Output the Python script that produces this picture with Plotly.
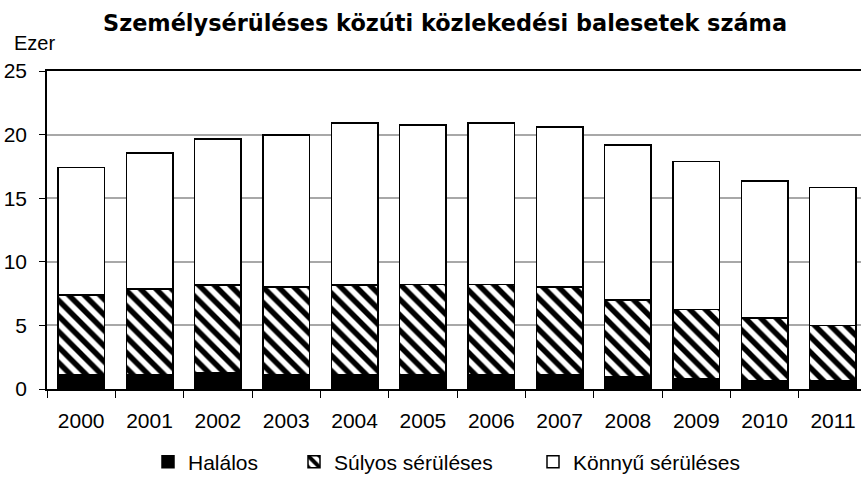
import plotly.graph_objects as go

years = ["2000", "2001", "2002", "2003", "2004", "2005",
         "2006", "2007", "2008", "2009", "2010", "2011"]
halalos = [1.10, 1.10, 1.28, 1.10, 1.10, 1.10, 1.10, 1.10, 0.97, 0.79, 0.65, 0.65]
sulyos = [6.30, 6.75, 6.91, 6.90, 7.09, 7.10, 7.10, 6.90, 6.03, 5.48, 4.95, 4.33]
konnyu = [10.03, 10.71, 11.47, 11.98, 12.71, 12.56, 12.70, 12.60, 12.20, 11.63, 10.75, 10.87]

series_names = ["Halálos", "Súlyos sérüléses", "Könnyű sérüléses"]
y_ticks = [0, 5, 10, 15, 20, 25]
title_text = "Személysérüléses közúti közlekedési balesetek száma"
unit_text = "Ezer"

W, H = 861, 479
ML, MR, MT, MB = 47, 0, 71, 90
PW = W - ML - MR
PH = H - MT - MB


def px_x(px):
    return (px - ML) / PW


def px_y(py):
    return (H - MB - py) / PH


FONT = "Liberation Sans, Arial, sans-serif"
line = dict(color="black", width=1.5)

fig = go.Figure()
fig.add_trace(go.Bar(
    x=years, y=halalos, name=series_names[0], width=0.68,
    marker=dict(color="black", line=line), legend="legend"))
fig.add_trace(go.Bar(
    x=years, y=sulyos, name=series_names[1], width=0.68,
    marker=dict(color="white", line=line,
                pattern=dict(shape="\\", fgcolor="black", bgcolor="white",
                             fgopacity=1, size=11, solidity=0.5,
                             fillmode="replace")),
    legend="legend2"))
fig.add_trace(go.Bar(
    x=years, y=konnyu, name=series_names[2], width=0.68,
    marker=dict(color="white", line=line), legend="legend3"))

leg_common = dict(orientation="h", yanchor="middle", xanchor="left",
                  bgcolor="rgba(0,0,0,0)", borderwidth=0,
                  font=dict(family=FONT, size=21, color="black"))

fig.update_layout(
    width=W, height=H,
    margin=dict(l=ML, r=MR, t=MT, b=MB, autoexpand=False),
    paper_bgcolor="white", plot_bgcolor="white",
    barmode="stack",
    font=dict(family=FONT, size=20, color="black"),
    showlegend=True,
    legend=dict(x=px_x(148), y=px_y(462), **leg_common),
    legend2=dict(x=px_x(294), y=px_y(462), **leg_common),
    legend3=dict(x=px_x(533), y=px_y(462), **leg_common),
    xaxis=dict(
        type="category", range=[-0.5, 11.41],
        showline=True, linecolor="black", linewidth=1.5, mirror=True,
        ticks="outside", tickson="boundaries", ticklen=7, tickcolor="black",
        tickwidth=1, ticklabelstandoff=12,
        tickfont=dict(family=FONT, size=21, color="black"),
        showgrid=False, fixedrange=True, automargin=False),
    yaxis=dict(
        range=[0, 25], tickvals=y_ticks,
        showline=True, linecolor="black", linewidth=1.5,
        ticks="outside", ticklen=6, tickcolor="black", tickwidth=1,
        ticklabelstandoff=8,
        tickfont=dict(family=FONT, size=21, color="black"),
        showgrid=True, gridcolor="#a8a8a8", gridwidth=1.5,
        zeroline=False, fixedrange=True, automargin=False),
    annotations=[
        dict(text=title_text, xref="paper", yref="paper",
             x=px_x(445), y=px_y(23), xanchor="center", yanchor="middle",
             showarrow=False,
             font=dict(family="DejaVu Sans, sans-serif", size=22.4,
                       color="black", weight="bold")),
        dict(text=unit_text, xref="paper", yref="paper",
             x=px_x(12), y=px_y(43), xanchor="left", yanchor="middle",
             showarrow=False,
             font=dict(family=FONT, size=20, color="black")),
    ],
)

fig.write_html(
    "out.html",
    config={"displayModeBar": False},
    post_script="document.body.style.margin='0';document.body.style.padding='0';"
                "document.body.style.overflow='hidden';",
)
